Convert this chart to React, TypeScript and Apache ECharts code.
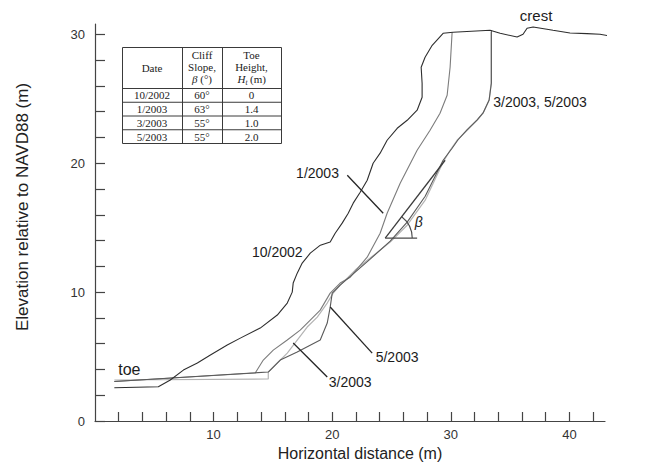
import React, { useEffect, useRef } from 'react';
import * as echarts from 'echarts';

// Cliff profile surveys: [horizontal distance (m), elevation relative to NAVD88 (m)]
const profile102002: [number, number][] = [
  [1.63, 2.58], [5.34, 2.66], [6.35, 3.18], [7.45, 3.95], [8.63, 4.5], [9.73, 5.12],
  [11.15, 5.89], [12.25, 6.43], [13.93, 7.21], [15.37, 8.22], [16.21, 9.15], [16.63, 10.0],
  [16.71, 10.7], [17.05, 11.47], [17.47, 12.25], [18.15, 13.02], [19.0, 13.64], [19.83, 13.88],
  [20.25, 14.57], [20.84, 15.35], [21.35, 16.12], [21.77, 16.9], [22.36, 17.75], [22.95, 18.68],
  [23.45, 20.0], [24.04, 20.78], [24.63, 21.78], [25.48, 22.71], [26.32, 23.33], [27.16, 24.11],
  [27.58, 25.12], [27.58, 26.2], [27.5, 27.44], [27.83, 28.22], [28.43, 29.15], [29.35, 30.08],
  [30.19, 30.16], [33.31, 30.31], [34.16, 30.08], [35.59, 29.79], [36.09, 30.0], [36.43, 30.47],
  [36.94, 30.57], [38.62, 30.31], [40.05, 30.1], [41.48, 30.05], [42.58, 30.0], [44.0, 29.78],
];

const profile012003: [number, number][] = [
  [1.63, 3.06], [13.51, 3.72], [14.19, 4.73], [15.03, 5.5], [16.21, 6.28], [17.3, 7.05],
  [18.15, 7.83], [18.99, 8.6], [19.83, 9.92], [20.67, 10.7], [21.52, 11.16], [22.95, 12.71],
  [24.04, 14.57], [24.63, 16.12], [25.73, 18.45], [27.16, 21.0], [28.25, 22.56], [29.09, 23.88],
  [29.69, 25.27], [29.94, 27.44], [30.11, 30.16],
];

const profile032003: [number, number][] = [
  [1.63, 3.18], [14.61, 3.26], [14.61, 3.8], [15.37, 4.5], [16.21, 5.27], [17.05, 6.28],
  [17.89, 7.29], [18.74, 8.06], [19.58, 9.15], [20.08, 9.92], [20.67, 10.54], [21.94, 11.71],
  [23.2, 12.64], [24.89, 13.88], [26.32, 15.19], [27.84, 17.13], [29.35, 20.08], [29.94, 21.0],
  [30.53, 21.78], [31.38, 22.56], [32.22, 23.33], [32.72, 23.88], [33.23, 24.88], [33.4, 26.2],
  [33.4, 30.16],
];

const profile052003: [number, number][] = [
  [1.63, 3.06], [14.61, 3.8], [15.62, 4.73], [17.05, 5.35], [18.99, 6.28], [19.58, 7.6],
  [19.83, 8.84], [20.0, 9.92], [20.67, 10.54], [21.94, 11.55], [23.2, 12.56], [24.89, 13.95],
  [26.32, 15.43], [27.84, 17.44], [29.35, 20.23], [30.11, 21.16], [30.61, 21.82], [31.38, 22.6],
  [32.22, 23.36], [32.72, 23.9], [33.23, 24.9], [33.42, 26.2], [33.42, 30.31],
];

// Axis ticks and labels
const xTickValues = [2, 4, 6, 8, 10, 12, 14, 16, 18, 20, 22, 24, 26, 28, 30, 32, 34, 36, 38, 40, 42];
const xTickLabels = [10, 20, 30, 40];
const yTickValues = [0, 2, 4, 6, 8, 10, 12, 14, 16, 18, 20, 22, 24, 26, 28, 30];
const yTickLabels = [0, 10, 20, 30];

// Survey summary table
const tableDates = ['10/2002', '1/2003', '3/2003', '5/2003'];
const tableSlopes = ['60°', '63°', '55°', '55°'];
const tableToeHeights = ['0', '1.4', '1.0', '2.0'];

// Callout labels and leader lines, placed in data coordinates
type Callout = { text: string; at: [number, number]; size: number; from?: [number, number]; to?: [number, number] };
const callouts: Callout[] = [
  { text: '10/2002', at: [15.37, 13.1], size: 14 },
  { text: '1/2003', at: [18.76, 19.22], size: 14, from: [21.27, 19.07], to: [24.3, 16.12] },
  { text: '5/2003', at: [25.47, 4.96], size: 14, from: [19.83, 8.84], to: [23.37, 5.27] },
  { text: '3/2003', at: [21.51, 3.02], size: 14, from: [16.71, 6.05], to: [19.58, 3.41] },
  { text: '3/2003, 5/2003', at: [37.52, 24.73], size: 14 },
  { text: 'crest', at: [37.19, 31.47], size: 15 },
  { text: 'toe', at: [2.9, 4.03], size: 16 },
];

// Slope-angle construction (beta)
const slopePivot: [number, number] = [24.47, 14.19];
const slopeEnd: [number, number] = [29.52, 20.23];
const slopeHorizEnd: [number, number] = [27.16, 14.19];
const betaLabelAt: [number, number] = [27.3, 15.45];

const SANS = '"Liberation Sans", Arial, Helvetica, sans-serif';
const SERIF = '"Liberation Serif", "Times New Roman", serif';

function buildTable(): any[] {
  const colX = [122, 182, 222, 281];
  const rowY = [47, 88, 101.75, 115.5, 129.25, 143];
  const stroke = '#3a3a3a';
  const els: any[] = [];
  els.push({
    type: 'rect',
    shape: { x: colX[0] + 0.5, y: rowY[0] + 0.5, width: colX[3] - colX[0], height: rowY[5] - rowY[0] },
    style: { fill: '#fff', stroke, lineWidth: 1 },
    z: 10,
  });
  for (const x of [colX[1], colX[2]]) {
    els.push({ type: 'line', shape: { x1: x + 0.5, y1: rowY[0], x2: x + 0.5, y2: rowY[5] }, style: { stroke, lineWidth: 1 }, z: 11 });
  }
  for (let i = 1; i < rowY.length - 1; i++) {
    els.push({ type: 'line', shape: { x1: colX[0], y1: rowY[i] + 0.5, x2: colX[3], y2: rowY[i] + 0.5 }, style: { stroke, lineWidth: 1 }, z: 11 });
  }
  const cx = [(colX[0] + colX[1]) / 2, (colX[1] + colX[2]) / 2, (colX[2] + colX[3]) / 2];
  const txt = (x: number, y: number, text: string, extra: any = {}) => ({
    type: 'text', x, y, z: 12,
    style: { text, fill: '#222', font: `11px ${SERIF}`, align: 'center', verticalAlign: 'middle', ...extra },
  });
  els.push(txt(cx[0], 67.5, 'Date'));
  els.push(txt(cx[1], 54.5, 'Cliff'));
  els.push(txt(cx[1], 66.5, 'Slope,'));
  els.push({
    type: 'text', x: cx[1], y: 79, z: 12,
    style: {
      text: '{i|β} (°)', fill: '#222', font: `11px ${SERIF}`, align: 'center', verticalAlign: 'middle',
      rich: { i: { fontStyle: 'italic', fontFamily: SERIF, fontSize: 11 } },
    },
  });
  els.push(txt(cx[2], 54.5, 'Toe'));
  els.push(txt(cx[2], 66.5, 'Height,'));
  // H_t (m)
  els.push({ type: 'text', x: cx[2] - 14, y: 79, z: 12, style: { text: 'H', fill: '#222', font: `italic 11px ${SERIF}`, align: 'left', verticalAlign: 'middle' } });
  els.push({ type: 'text', x: cx[2] - 6, y: 82, z: 12, style: { text: 't', fill: '#222', font: `italic 7.5px ${SERIF}`, align: 'left', verticalAlign: 'middle' } });
  els.push({ type: 'text', x: cx[2] - 1.5, y: 79, z: 12, style: { text: '(m)', fill: '#222', font: `11px ${SERIF}`, align: 'left', verticalAlign: 'middle' } });
  for (let r = 0; r < tableDates.length; r++) {
    const y = (rowY[r + 1] + rowY[r + 2]) / 2 + 0.5;
    els.push(txt(cx[0], y, tableDates[r]));
    els.push(txt(cx[1], y, tableSlopes[r]));
    els.push(txt(cx[2], y, tableToeHeights[r]));
  }
  return els;
}

function profileSeries(name: string, data: [number, number][], color: string, width: number, z: number) {
  return {
    name, type: 'line', data, symbol: 'none', showSymbol: false, clip: false, silent: true, z,
    lineStyle: { color, width }, emphasis: { disabled: true },
  };
}

export default function App() {
  const ref = useRef<HTMLDivElement>(null);

  useEffect(() => {
    const chart = echarts.init(ref.current!, null, { renderer: 'svg' });
    const axisLine = { show: true, onZero: false, lineStyle: { color: '#444', width: 1.2 } };
    const axisTickStyle = { lineStyle: { color: '#444', width: 1.2 } };

    chart.setOption({
      animation: false,
      backgroundColor: '#fff',
      grid: { left: 95, right: 52, top: 24, bottom: 51, containLabel: false },
      xAxis: {
        type: 'value', min: 0, max: 43,
        axisLine,
        axisTick: { show: true, inside: true, length: 9, customValues: xTickValues, ...axisTickStyle },
        axisLabel: { customValues: xTickLabels, color: '#333', fontSize: 13, fontFamily: SANS, margin: 7 },
        splitLine: { show: false },
      },
      yAxis: {
        type: 'value', min: 0, max: 30.8,
        axisLine,
        axisTick: { show: true, inside: true, length: 10, customValues: yTickValues, ...axisTickStyle },
        axisLabel: { customValues: yTickLabels, color: '#333', fontSize: 13, fontFamily: SANS, margin: 10 },
        splitLine: { show: false },
      },
      series: [
        profileSeries('3/2003', profile032003, '#b4b4b4', 1.2, 2),
        profileSeries('1/2003', profile012003, '#7c7c7c', 1.1, 3),
        profileSeries('5/2003', profile052003, '#5a5a5a', 1.1, 4),
        profileSeries('10/2002', profile102002, '#2e2e2e', 1.1, 5),
        {
          type: 'custom', silent: true, clip: false, z: 6,
          data: callouts.map((c) => c.at),
          renderItem: (params: any, api: any) => {
            const c = callouts[params.dataIndex];
            const p = api.coord(c.at);
            const children: any[] = [{
              type: 'text', x: p[0], y: p[1],
              style: { text: c.text, fill: '#1c1c1c', font: `${c.size}px ${SANS}`, align: 'center', verticalAlign: 'middle' },
            }];
            if (c.from && c.to) {
              const f = api.coord(c.from);
              const t = api.coord(c.to);
              children.push({ type: 'line', shape: { x1: f[0], y1: f[1], x2: t[0], y2: t[1] }, style: { stroke: '#262626', lineWidth: 1.3 } });
            }
            return { type: 'group', children };
          },
        },
        {
          type: 'custom', silent: true, clip: false, z: 7,
          data: [slopePivot],
          renderItem: (_params: any, api: any) => {
            const p0 = api.coord(slopePivot);
            const p1 = api.coord(slopeEnd);
            const ph = api.coord(slopeHorizEnd);
            const pl = api.coord(betaLabelAt);
            const ang = Math.atan2(p1[1] - p0[1], p1[0] - p0[0]);
            return {
              type: 'group',
              children: [
                { type: 'line', shape: { x1: p0[0], y1: p0[1], x2: p1[0], y2: p1[1] }, style: { stroke: '#3c3c3c', lineWidth: 1.3 } },
                { type: 'line', shape: { x1: p0[0], y1: p0[1], x2: ph[0], y2: ph[1] }, style: { stroke: '#4a4a4a', lineWidth: 1.2 } },
                { type: 'arc', shape: { cx: p0[0], cy: p0[1], r: 27, startAngle: ang, endAngle: 0, clockwise: true }, style: { stroke: '#4a4a4a', lineWidth: 1.1, fill: 'none' } },
                { type: 'text', x: pl[0], y: pl[1], style: { text: 'β', fill: '#222', font: `italic 14px ${SANS}`, align: 'center', verticalAlign: 'middle' } },
              ],
            };
          },
        },
      ],
      graphic: [
        {
          type: 'text', x: 22, y: 207, rotation: Math.PI / 2, z: 20,
          style: { text: 'Elevation relative to NAVD88 (m)', fill: '#222', font: `17px ${SANS}`, align: 'center', verticalAlign: 'middle' },
        },
        {
          type: 'text', x: 360, y: 453, z: 20,
          style: { text: 'Horizontal distance (m)', fill: '#222', font: `16px ${SANS}`, align: 'center', verticalAlign: 'middle' },
        },
        ...buildTable(),
      ],
    });
    return () => chart.dispose();
  }, []);

  return <div ref={ref} style={{ position: 'fixed', left: 0, top: 0, width: 657, height: 472, background: '#fff' }} />;
}
